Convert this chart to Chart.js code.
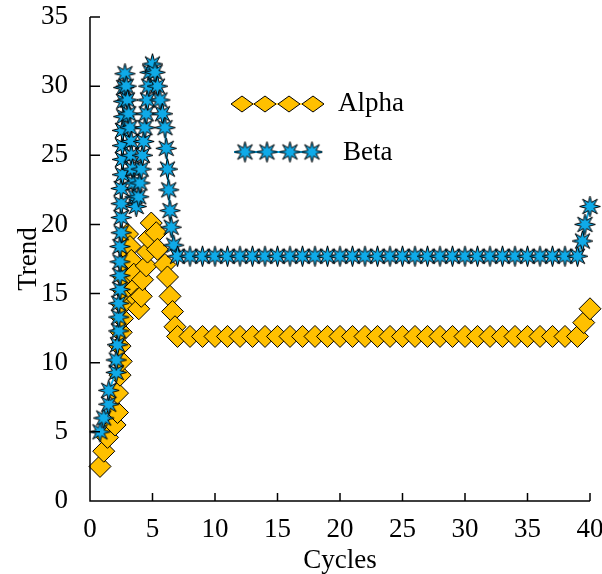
<!DOCTYPE html>
<html>
<head>
<meta charset="utf-8">
<script src="https://cdn.jsdelivr.net/npm/chart.js@4.4.0/dist/chart.umd.min.js"></script>
<style>
  html, body { margin: 0; padding: 0; background: #fff; }
</style>
</head>
<body>
<canvas id="trendChart" width="602" height="574"></canvas>
<script>
// series values
var alphaX = [0.8, 1.1, 1.4, 2.0, 2.2, 2.2, 2.4, 2.5, 2.4, 2.5, 2.6, 2.6, 2.7, 2.7, 2.8, 2.9, 3.0,
  3.2, 3.3, 3.5, 3.6, 3.8, 3.9,
  4.1, 4.2, 4.5, 4.6, 4.7, 4.9,
  5.3, 5.4, 6.0, 6.2, 6.4, 6.6, 6.8,
  7, 8, 9, 10, 11, 12, 13, 14, 15, 16, 17, 18, 19, 20, 21, 22, 23,
  24, 25, 26, 27, 28, 29, 30, 31, 32, 33, 34, 35, 36, 37, 38, 39,
  39.5, 40];
var alphaY = [2.5, 3.6, 4.6, 5.5, 6.4, 7.8, 9.1, 10.1, 11.2, 12.2, 13.2, 14.2, 15.2, 16.2, 17.2, 18.2, 19.3,
  18.4, 17.4, 16.4, 15.4, 14.6, 13.9,
  14.8, 16.0, 17.0, 18.0, 19.0, 20.1,
  19.4, 18.2, 17.1, 16.2, 14.8, 13.7, 12.6,
  11.9, 11.9, 11.9, 11.9, 11.9, 11.9, 11.9, 11.9, 11.9, 11.9, 11.9, 11.9, 11.9, 11.9, 11.9, 11.9, 11.9,
  11.9, 11.9, 11.9, 11.9, 11.9, 11.9, 11.9, 11.9, 11.9, 11.9, 11.9, 11.9, 11.9, 11.9, 11.9, 11.9,
  12.9, 13.9];

var betaX = [0.8, 1.1, 1.5, 1.5, 2.1, 2.1, 2.2, 2.3, 2.3, 2.3, 2.4, 2.4, 2.4, 2.4, 2.5, 2.5, 2.5, 2.5,
  2.6, 2.6, 2.6, 2.6, 2.7, 2.7, 2.7, 2.8,
  2.9, 3.0, 3.1, 3.2, 3.3, 3.3, 3.4, 3.5, 3.6, 3.7,
  3.9, 4.0, 4.1, 4.2, 4.3, 4.4, 4.5, 4.6, 4.7, 4.8, 5.0,
  5.2, 5.4, 5.6, 5.8, 6.0, 6.1, 6.2, 6.3, 6.4, 6.5, 6.7,
  7, 8, 9, 10, 11, 12, 13, 14, 15, 16, 17, 18, 19, 20, 21, 22, 23,
  24, 25, 26, 27, 28, 29, 30, 31, 32, 33, 34, 35, 36, 37, 38, 39,
  39.4, 39.6, 40];
var betaY = [5.0, 6.0, 7.0, 8.0, 9.3, 10.2, 11.3, 12.3, 13.3, 14.3, 15.3, 16.3, 17.3, 18.4, 19.4, 20.5, 21.5, 22.6,
  23.6, 24.7, 25.7, 26.8, 27.8, 28.9, 29.9, 30.9,
  30.0, 29.0, 28.0, 27.0, 26.0, 25.0, 24.0, 23.0, 22.0, 21.3,
  22.0, 23.0, 24.0, 25.0, 26.0, 27.0, 28.0, 29.0, 30.0, 31.0, 31.6,
  31.0, 30.0, 29.0, 28.0, 27.0, 25.5, 24.0, 22.5, 21.0, 19.8, 18.5,
  17.7, 17.7, 17.7, 17.7, 17.7, 17.7, 17.7, 17.7, 17.7, 17.7, 17.7, 17.7, 17.7, 17.7, 17.7, 17.7, 17.7,
  17.7, 17.7, 17.7, 17.7, 17.7, 17.7, 17.7, 17.7, 17.7, 17.7, 17.7, 17.7, 17.7, 17.7, 17.7, 17.7,
  18.8, 20.0, 21.3];

var seriesNames = ["Alpha", "Beta"];
var xTicks = [0, 5, 10, 15, 20, 25, 30, 35, 40];
var yTicks = [0, 5, 10, 15, 20, 25, 30, 35];

var GOLD = "#FFC000";
var BLUE = "#0FAAE8";
var FONT = "'Liberation Serif', 'Times New Roman', serif";
var FONT_SIZE = 27;

function toPoints(xs, ys) {
  return xs.map(function (x, i) { return { x: x, y: ys[i] }; });
}

// filled star marker with black outline
function makeStar(size) {
  var c = document.createElement("canvas");
  c.width = size; c.height = size;
  var ctx = c.getContext("2d");
  var cx = size / 2, cy = size / 2, outer = size / 2 - 1, inner = outer * 0.42, n = 8;
  ctx.beginPath();
  for (var i = 0; i < n * 2; i++) {
    var r = i % 2 === 0 ? outer : inner;
    var a = -Math.PI / 2 + i * Math.PI / n;
    ctx.lineTo(cx + r * Math.cos(a), cy + r * Math.sin(a));
  }
  ctx.closePath();
  ctx.fillStyle = BLUE;
  ctx.fill();
  ctx.lineWidth = 1;
  ctx.strokeStyle = "#000";
  ctx.stroke();
  return c;
}
var starImg = makeStar(23);

// inward tick marks and the two axis lines
var tickPlugin = {
  id: "inwardTicks",
  afterDatasetsDraw: function (chart) {
    var ctx = chart.ctx, xs = chart.scales.x, ys = chart.scales.y;
    var area = chart.chartArea;
    ctx.save();
    ctx.strokeStyle = "#000";
    ctx.lineWidth = 1.5;
    ctx.beginPath();
    ctx.moveTo(area.left, area.top);
    ctx.lineTo(area.left, area.bottom);
    ctx.lineTo(area.right, area.bottom);
    xTicks.forEach(function (v) {
      if (v === 0) return;
      var px = xs.getPixelForValue(v);
      ctx.moveTo(px, area.bottom);
      ctx.lineTo(px, area.bottom - 8);
    });
    yTicks.forEach(function (v) {
      if (v === 0) return;
      var py = ys.getPixelForValue(v);
      ctx.moveTo(area.left, py);
      ctx.lineTo(area.left + 10, py);
    });
    ctx.stroke();
    ctx.restore();
  }
};

// legend drawn inside the plot
var legendPlugin = {
  id: "innerLegend",
  afterDraw: function (chart) {
    var ctx = chart.ctx;
    ctx.save();
    // Alpha row
    ctx.strokeStyle = GOLD;
    ctx.lineWidth = 1.5;
    ctx.beginPath();
    ctx.moveTo(232, 104); ctx.lineTo(323, 104);
    ctx.stroke();
    [242, 265, 289, 313].forEach(function (x) {
      ctx.beginPath();
      ctx.moveTo(x - 11, 104); ctx.lineTo(x, 96); ctx.lineTo(x + 11, 104); ctx.lineTo(x, 112);
      ctx.closePath();
      ctx.fillStyle = GOLD; ctx.fill();
      ctx.strokeStyle = "#000"; ctx.lineWidth = 1; ctx.stroke();
    });
    // Beta row
    ctx.strokeStyle = BLUE;
    ctx.lineWidth = 2;
    ctx.beginPath();
    ctx.moveTo(234, 152); ctx.lineTo(322, 152);
    ctx.stroke();
    [245, 267, 290, 312].forEach(function (x) {
      ctx.drawImage(starImg, x - 11.5, 152 - 11.5);
    });
    ctx.fillStyle = "#000";
    ctx.font = FONT_SIZE + "px " + FONT;
    ctx.textBaseline = "middle";
    ctx.fillText(seriesNames[0], 338, 104);
    ctx.fillText(seriesNames[1], 343, 153);
    ctx.restore();
  }
};

new Chart(document.getElementById("trendChart"), {
  type: "scatter",
  data: {
    datasets: [
      {
        label: seriesNames[1],
        data: toPoints(betaX, betaY),
        showLine: true,
        borderColor: BLUE,
        borderWidth: 2,
        pointStyle: starImg,
        clip: false,
        order: 0
      },
      {
        label: seriesNames[0],
        data: toPoints(alphaX, alphaY),
        showLine: true,
        borderColor: GOLD,
        borderWidth: 1.5,
        pointStyle: "rectRot",
        pointRadius: 11,
        pointBackgroundColor: GOLD,
        pointBorderColor: "#000",
        pointBorderWidth: 1,
        clip: false,
        order: 1
      }
    ]
  },
  options: {
    responsive: false,
    animation: false,
    layout: { padding: { top: 17, right: 10, left: 0, bottom: 0 } },
    plugins: { legend: { display: false }, tooltip: { enabled: false } },
    scales: {
      x: {
        type: "linear",
        min: 0, max: 40,
        afterBuildTicks: function (s) { s.ticks = xTicks.map(function (v) { return { value: v }; }); },
        afterFit: function (s) { s.height = 73; s.paddingLeft = 0; s.paddingRight = 0; },
        grid: { display: false },
        border: { display: false },
        ticks: { color: "#000", font: { family: FONT, size: FONT_SIZE }, padding: 5, maxRotation: 0 },
        title: { display: true, text: "Cycles", color: "#000", font: { family: FONT, size: FONT_SIZE }, padding: { top: 0, bottom: -3 } }
      },
      y: {
        type: "linear",
        min: 0, max: 35,
        afterBuildTicks: function (s) { s.ticks = yTicks.map(function (v) { return { value: v }; }); },
        afterFit: function (s) { s.width = 90; s.paddingTop = 0; s.paddingBottom = 0; },
        grid: { display: false },
        border: { display: false },
        ticks: { color: "#000", font: { family: FONT, size: FONT_SIZE }, padding: 14 },
        title: { display: true, text: "Trend", color: "#000", font: { family: FONT, size: FONT_SIZE }, padding: { top: 13, bottom: 0 } }
      }
    }
  },
  plugins: [tickPlugin, legendPlugin]
});
</script>
</body>
</html>
